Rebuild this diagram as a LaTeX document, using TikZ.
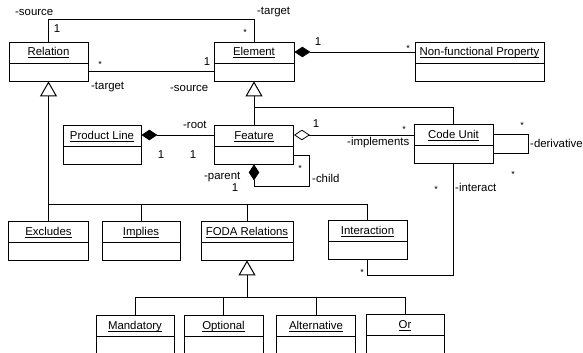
\documentclass[tikz,border=0pt]{standalone}
\usepackage{fontspec}
\setmainfont{Liberation Sans}
\usetikzlibrary{arrows.meta}
\newcommand\clsname[1]{\setbox0\hbox{#1}\rlap{\rule[-2.2pt]{\wd0}{0.7pt}}\box0}
\begin{document}
\begin{tikzpicture}[x=1pt,y=-1pt,
  cls/.style={draw, line width=0.8pt, inner sep=0pt, minimum width=79pt,
    text height=14pt, text depth=25pt, font=\fontsize{11.4}{13}\selectfont,
    path picture={\draw[line width=0.8pt]
      ([yshift=-21pt]path picture bounding box.north west) --
      ([yshift=-21pt]path picture bounding box.north east);}},
  conn/.style={line width=0.8pt},
  gentree/.style={line width=1pt},
  gen/.style={line width=1pt, -{Triangle[open, length=15pt, width=17pt]}},
  comp/.style={conn, -{Diamond[length=16pt, width=10.5pt]}},
  agg/.style={conn, -{Diamond[open, length=16pt, width=10.5pt]}},
  lab/.style={inner sep=0pt, font=\fontsize{11.4}{13}\selectfont},
  ast/.style={inner sep=0pt, font=\fontsize{9}{10}\selectfont, yshift=-2pt}]
\useasboundingbox (0,0) rectangle (583,353);
\clip (0,0) rectangle (583,353);

% classes
\node[cls] (rel) at (48.5,61.5) {\clsname{Relation}};
\node[cls, minimum width=80pt] (elem) at (254,61.5) {\clsname{Element}};
\node[cls, minimum width=129pt] (nfp) at (479.5,61.5) {\clsname{Non-functional Property}};
\node[cls, minimum width=78pt] (pl) at (102,144.5) {\clsname{Product Line}};
\node[cls] (feat) at (254,144.5) {\clsname{Feature}};
\node[cls] (cu) at (453.5,143.5) {\clsname{Code Unit}};
\node[cls, minimum width=80pt] (excl) at (48.5,240.5) {\clsname{Excludes}};
\node[cls, minimum width=78pt] (impl) at (141,240.5) {\clsname{Implies}};
\node[cls, minimum width=92pt] (foda) at (247,240.5) {\clsname{FODA Relations}};
\node[cls] (inter) at (367.5,239.5) {\clsname{Interaction}};
\node[cls, minimum width=78pt] (mand) at (135,334.5) {\clsname{Mandatory}};
\node[cls] (opt) at (223.5,334.5) {\clsname{Optional}};
\node[cls] (alt) at (316,334.5) {\clsname{Alternative}};
\node[cls, minimum width=78pt] (or) at (405,334) {\clsname{Or}};

% associations Relation - Element
\draw[conn] (rel.north) -- (rel.north |- 0,19) -| (elem.north);
\draw[conn] (rel.east |- 0,71) -- (elem.west |- 0,71);

% generalization to Relation
\draw[gen] (rel.south |- 0,204) -- (rel.south);
\draw[gentree] (rel.south |- 0,204) -- (inter.north |- 0,204);
\draw[conn] (excl.north) -- (excl.north |- 0,204);
\draw[conn] (impl.north) -- (impl.north |- 0,204);
\draw[conn] (foda.north) -- (foda.north |- 0,204);
\draw[conn] (inter.north) -- (inter.north |- 0,204);

% generalization to Element
\draw[gen] (feat.north) -- (elem.south);
\draw[conn] (cu.north) -- (cu.north |- 0,107) -- (feat.north |- 0,107);

% composition Element - NFP
\draw[comp] (nfp.west |- 0,52) -- (elem.east |- 0,52);
% composition Product Line - Feature
\draw[comp] (feat.west |- 0,135) -- (pl.east |- 0,135);
% aggregation Feature - Code Unit
\draw[agg] (cu.west |- 0,135) -- (feat.east |- 0,135);
% feature self composition
\draw[comp] (feat.east |- 0,155) -- ++(15,0) |- ([yshift=-22pt]feat.south) -- (feat.south);
% derivative loop
\draw[conn] (cu.east |- 0,134) -- ++(35,0) |- (cu.east |- 0,153);
% interact
\draw[conn] (cu.south) |- ([yshift=-16pt]inter.south) -- (inter.south);

% generalization to FODA Relations
\draw[gen] (foda.south |- 0,297) -- (foda.south);
\draw[conn] (mand.north |- 0,297) -- (or.north |- 0,297);
\draw[conn] (mand.north) -- (mand.north |- 0,297);
\draw[conn] (opt.north) -- (opt.north |- 0,297);
\draw[conn] (alt.north) -- (alt.north |- 0,297);
\draw[conn] (or.north) -- (or.north |- 0,297);

% labels
\node[lab, anchor=west] (l1) at (15,12) {-source};
\node[lab] (l2) at (57,29) {1};
\node[ast] (l3) at (245,30) {*};
\node[lab, anchor=west] (l4) at (257,12) {-target};
\node[ast] (l5) at (100,62) {*};
\node[lab] (l6) at (207,62) {1};
\node[lab, anchor=west] (l7) at (91,87) {-target};
\node[lab, anchor=west] (l8) at (170,88) {-source};
\node[lab] (l9) at (318,42) {1};
\node[ast] (l10) at (408,46) {*};
\node[lab, anchor=west] (l11) at (183,125) {-root};
\node[lab] (l12) at (161,155) {1};
\node[lab] (l13) at (193,155) {1};
\node[lab, anchor=west] (l14) at (204,177) {-parent};
\node[lab] (l15) at (235,188) {1};
\node[lab] (l16) at (316,124) {1};
\node[ast] (l17) at (404,127) {*};
\node[lab, anchor=west] (l18) at (347,143) {-implements};
\node[ast] (l19) at (300,166) {*};
\node[lab, anchor=west] (l20) at (312,178) {-child};
\node[ast] (l21) at (522,123) {*};
\node[lab, anchor=west] (l22) at (530,143) {-derivative};
\node[ast] (l23) at (513,172) {*};
\node[ast] (l24) at (436,187) {*};
\node[lab, anchor=west] (l25) at (455,187) {-interact};
\node[ast] (l26) at (362,270) {*};
\end{tikzpicture}
\end{document}
